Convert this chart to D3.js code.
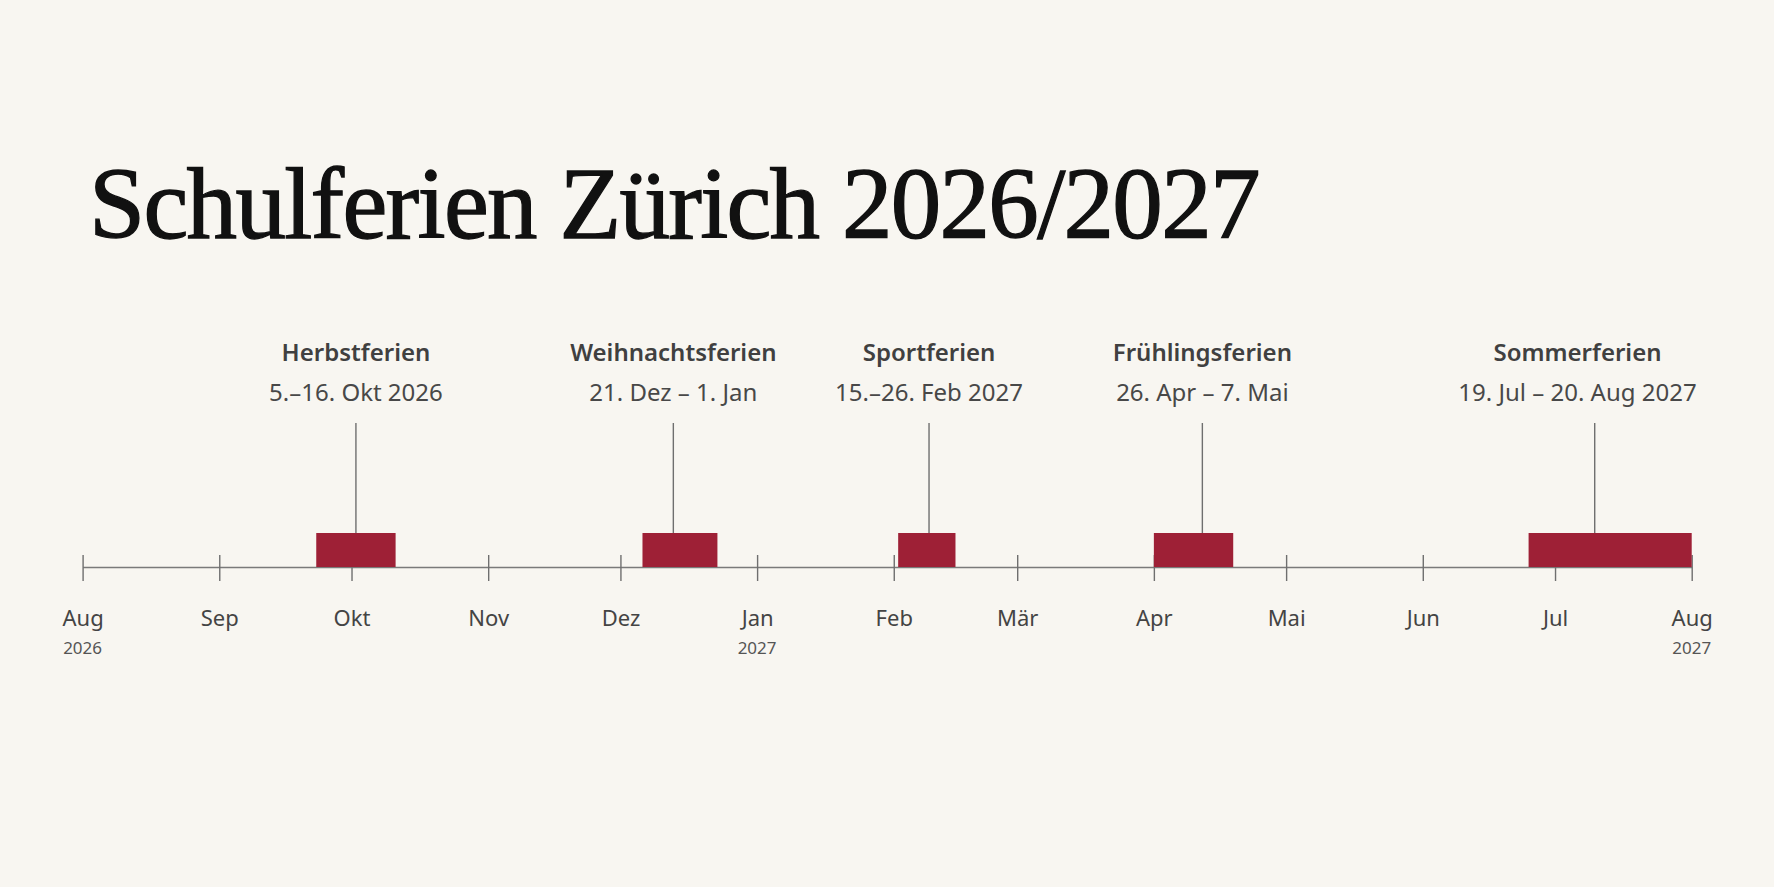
<!DOCTYPE html>
<html lang="de">
<head>
<meta charset="utf-8">
<script src="https://cdn.jsdelivr.net/npm/d3@7"></script>
<style>
  html, body { margin: 0; padding: 0; background: #f8f6f1; }
  svg { display: block; }
</style>
</head>
<body>
<div class="chart"></div>
<script>
// Ferien (Balken)
var names = ["Herbstferien", "Weihnachtsferien", "Sportferien", "Frühlingsferien", "Sommerferien"];
var dateLabels = ["5.–16. Okt 2026", "21. Dez – 1. Jan", "15.–26. Feb 2027", "26. Apr – 7. Mai", "19. Jul – 20. Aug 2027"];
var starts = [new Date(2026, 8, 23), new Date(2026, 11, 6), new Date(2027, 1, 2), new Date(2027, 3, 1), new Date(2027, 5, 25)];
var ends = [new Date(2026, 9, 11), new Date(2026, 11, 23), new Date(2027, 1, 15), new Date(2027, 3, 19), new Date(2027, 7, 1)];
var markers = [new Date(2026, 9, 2), new Date(2026, 11, 13), new Date(2027, 1, 9), new Date(2027, 3, 12), new Date(2027, 6, 10)];

var monthLabels = ["Jan", "Feb", "Mär", "Apr", "Mai", "Jun", "Jul", "Aug", "Sep", "Okt", "Nov", "Dez"];
var yearTicks = [new Date(2026, 7, 1), new Date(2027, 0, 1), new Date(2027, 7, 1)];

const width = 1774;
const height = 887;
const axisY = 567;

var svg = d3.select(".chart").append("svg")
    .attr("width", width)
    .attr("height", height);

svg.append("rect")
    .attr("width", width)
    .attr("height", height)
    .attr("fill", "#f8f6f1");

// Titel
svg.append("text")
    .attr("x", 89)
    .attr("y", 238)
    .attr("font-family", "'Liberation Serif', 'DejaVu Serif', serif")
    .attr("font-size", 101)
    .attr("letter-spacing", "-1.7px")
    .attr("fill", "#111")
    .attr("stroke", "#111")
    .attr("stroke-width", 1.3)
    .text("Schulferien Zürich 2026/2027");

var x = d3.scaleTime()
    .domain([new Date(2026, 7, 1), new Date(2027, 7, 1)])
    .range([82.6, 1691.7]);

// Achse
var axis = d3.axisBottom(x)
    .ticks(d3.timeMonth.every(1))
    .tickFormat(d => monthLabels[d.getMonth()])
    .tickSizeOuter(0);

var gAxis = svg.append("g")
    .attr("transform", `translate(0, ${axisY})`)
    .call(axis);

gAxis.select(".domain")
    .attr("stroke", "#7a7a7a")
    .attr("stroke-width", 1.6);

gAxis.selectAll(".tick line")
    .attr("y1", -12)
    .attr("y2", 14)
    .attr("stroke", "#6f6f6f")
    .attr("stroke-width", 1.4);

gAxis.selectAll(".tick text")
    .attr("y", 59)
    .attr("dy", 0)
    .attr("font-family", "'Noto Sans', sans-serif")
    .attr("font-size", 22)
    .attr("fill", "#444");

// Jahreszahlen
svg.append("g")
    .selectAll("text")
    .data(yearTicks)
    .join("text")
    .attr("x", d => x(d))
    .attr("y", axisY + 87)
    .attr("text-anchor", "middle")
    .attr("font-family", "'Noto Sans', sans-serif")
    .attr("font-size", 17)
    .attr("fill", "#555")
    .text(d => d.getFullYear());

// Balken
svg.append("g")
    .selectAll("rect")
    .data(d3.range(names.length))
    .join("rect")
    .attr("x", i => x(starts[i]))
    .attr("y", axisY - 34)
    .attr("width", i => x(ends[i]) - x(starts[i]))
    .attr("height", 34)
    .attr("fill", "#9e2036");

// Leader-Linien
svg.append("g")
    .selectAll("line")
    .data(markers)
    .join("line")
    .attr("x1", d => x(d))
    .attr("x2", d => x(d))
    .attr("y1", 423)
    .attr("y2", axisY - 34)
    .attr("stroke", "#6f6f6f")
    .attr("stroke-width", 1.4);

// Beschriftungen
var labels = svg.append("g")
    .selectAll("g")
    .data(d3.range(names.length))
    .join("g");

labels.append("text")
    .attr("class", "name")
    .attr("y", 361)
    .attr("text-anchor", "middle")
    .attr("font-family", "'Noto Sans', sans-serif")
    .attr("font-weight", 600)
    .attr("font-size", 24)
    .attr("fill", "#404040")
    .text(i => names[i]);

labels.append("text")
    .attr("class", "date")
    .attr("y", 401)
    .attr("text-anchor", "middle")
    .attr("font-family", "'Noto Sans', sans-serif")
    .attr("font-size", 24)
    .attr("fill", "#484848")
    .text(i => dateLabels[i]);

// nicht über den rechten Rand hinaus
var rightLimit = x.range()[1] + 5;
labels.each(function(i) {
    var g = d3.select(this);
    var w = Math.max(g.select(".name").node().getComputedTextLength(),
                     g.select(".date").node().getComputedTextLength());
    var cx = Math.min(x(markers[i]), rightLimit - w / 2);
    g.attr("transform", `translate(${cx}, 0)`);
});
</script>
</body>
</html>
